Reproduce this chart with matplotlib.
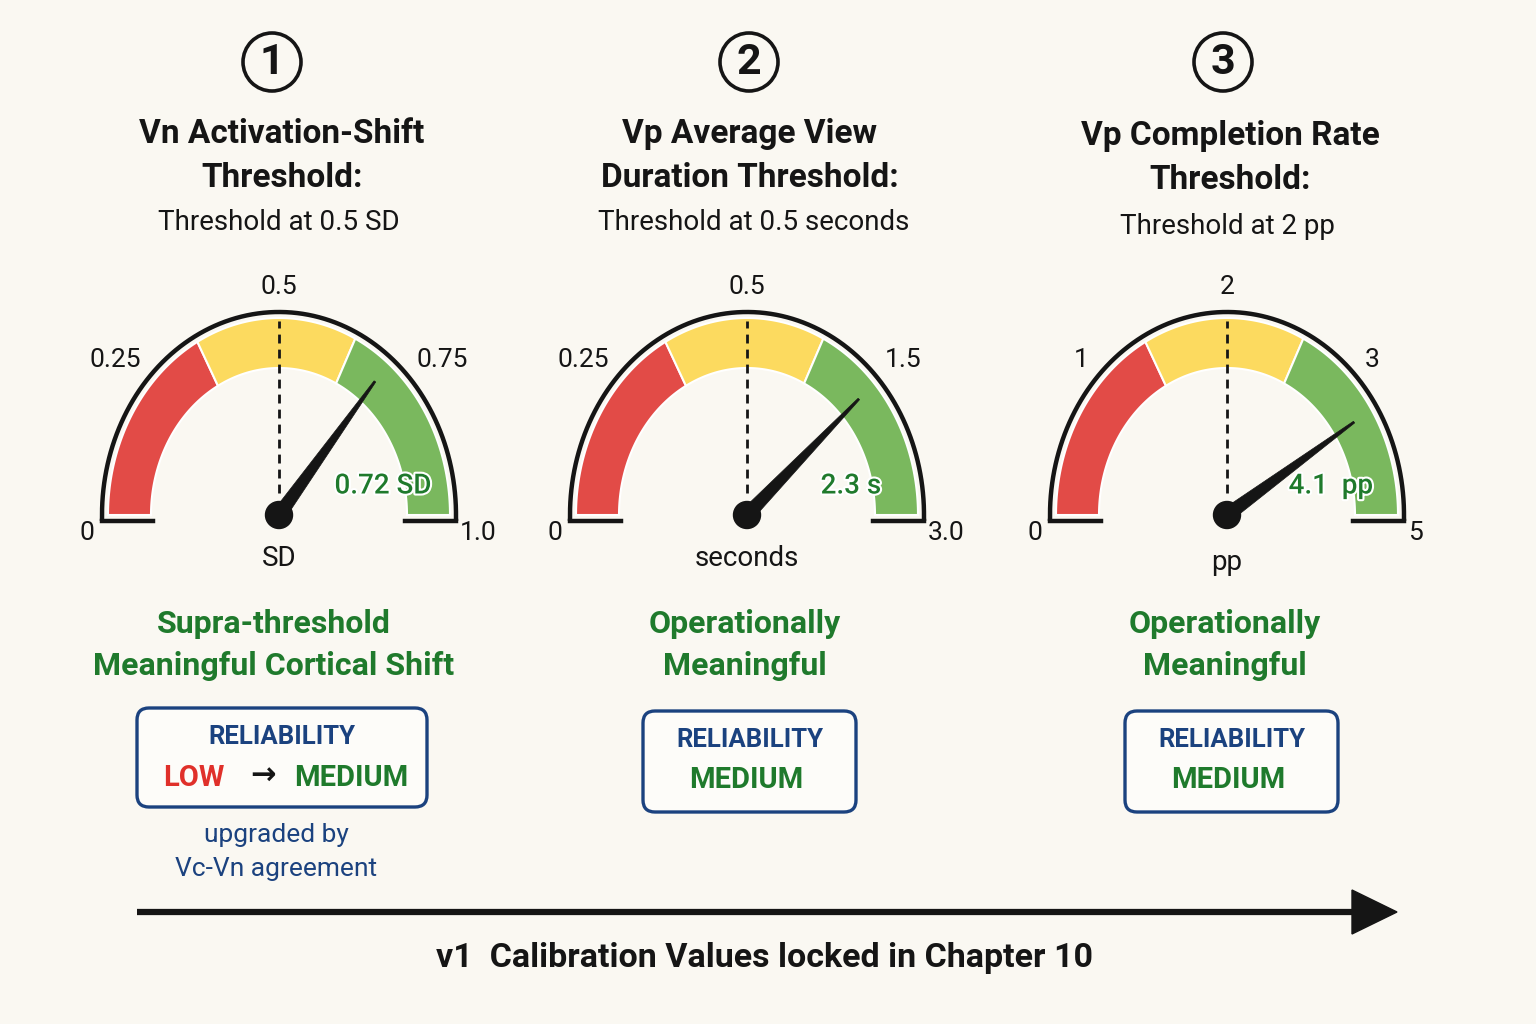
import numpy as np
import matplotlib
matplotlib.use("Agg")
import matplotlib.pyplot as plt
from matplotlib.patches import Polygon, Circle, FancyBboxPatch
import matplotlib.patheffects as pe

# ---------------- data ----------------
titles = ["Vn Activation-Shift\nThreshold:", "Vp Average View\nDuration Threshold:", "Vp Completion Rate\nThreshold:"]
subtitles = ["Threshold at 0.5 SD", "Threshold at 0.5 seconds", "Threshold at 2 pp"]
tick_values = [[0, 0.25, 0.5, 0.75, 1.0], [0, 0.25, 0.5, 1.5, 3.0], [0, 1, 2, 3, 5]]
tick_labels = [["0", "0.25", "0.5", "0.75", "1.0"], ["0", "0.25", "0.5", "1.5", "3.0"], ["0", "1", "2", "3", "5"]]
thresholds = [0.5, 0.5, 2]
needle_values = [0.72, 2.3, 4.1]
value_labels = ["0.72 SD", "2.3 s", "4.1  pp"]
units = ["SD", "seconds", "pp"]
verdicts = ["Supra-threshold\nMeaningful Cortical Shift", "Operationally\nMeaningful", "Operationally\nMeaningful"]
reliability_from = ["LOW", None, None]
reliability_to = ["MEDIUM", "MEDIUM", "MEDIUM"]
footnote = "upgraded by\nVc-Vn agreement"
caption = "v1  Calibration Values locked in Chapter 10"

# ---------------- style ----------------
BG = "#FAF8F2"
RED, YELLOW, GREEN = "#E24B47", "#FCDA5F", "#7AB85E"
DKGREEN = "#1F7A2C"
NAVY = "#1B427F"
INK = "#151515"
plt.rcParams["font.family"] = ["Roboto", "DejaVu Sans"]

zone_deg = [180, 118.5, 63.5, 0]          # red | yellow | green
tick_deg = [180, 135, 90, 45, 0]
centers_x = [279, 747, 1227]
badge_dx = [-7, 2, -4]
cy = 515
rx_out, ry_out = 171, 197
rx_in, ry_in = 128, 147
rx_rim, ry_rim = 177, 203

fig = plt.figure(figsize=(15.36, 10.24), dpi=100, facecolor=BG)
ax = fig.add_axes([0, 0, 1, 1])
ax.set_xlim(0, 1536)
ax.set_ylim(1024, 0)
ax.axis("off")


def ell(cx, a_deg, rx, ry):
    a = np.radians(a_deg)
    return np.column_stack([cx + rx * np.cos(a), cy - ry * np.sin(a)])


for i, cx in enumerate(centers_x):
    # number badge and titles
    bxc = cx + badge_dx[i]
    ax.add_patch(Circle((bxc, 62), 29, fc="none", ec=INK, lw=2.6))
    ax.text(bxc, 63, str(i + 1), ha="center", va="center", fontsize=31, fontweight="bold", color=INK)
    ax.text(cx + 3, 156 + (2 if i == 2 else 0), titles[i], ha="center", va="center",
            fontsize=24, fontweight="bold", color=INK, linespacing=1.5)
    ax.text(cx + (7 if i == 1 else 0), 222 + (5 if i == 2 else 0), subtitles[i], ha="center", va="center",
            fontsize=20, color=INK)

    # colour zones
    for z, col in enumerate([RED, YELLOW, GREEN]):
        a = np.linspace(zone_deg[z], zone_deg[z + 1], 60)
        pts = np.vstack([ell(cx, a, rx_out, ry_out), ell(cx, a[::-1], rx_in, ry_in)])
        ax.add_patch(Polygon(pts, closed=True, fc=col, ec="white", lw=1.5, zorder=2))

    # outer rim + base lines
    a = np.linspace(180, 0, 200)
    rim = ell(cx, a, rx_rim, ry_rim)
    rim = np.vstack([[cx - rx_rim, cy + 6], rim, [cx + rx_rim, cy + 6]])
    ax.plot(rim[:, 0], rim[:, 1], color=INK, lw=3.2, zorder=3, solid_capstyle="butt")
    ax.plot([cx - rx_rim, cx - rx_in + 2], [cy + 6, cy + 6], color=INK, lw=3.2, zorder=3)
    ax.plot([cx + rx_in - 2, cx + rx_rim], [cy + 6, cy + 6], color=INK, lw=3.2, zorder=3)

    # tick labels
    for v, lab, d in zip(tick_values[i], tick_labels[i], tick_deg):
        if d == 180:
            x, y, ha = cx - 192, 533, "center"
        elif d == 0:
            x, y, ha = cx + 181, 533, "left"
        elif d == 135:
            x, y, ha = cx - 138, 360, "right"
        elif d == 45:
            x, y, ha = cx + 138, 360, "left"
        else:
            x, y, ha = cx, 287, "center"
        ax.text(x, y, lab, ha=ha, va="center", fontsize=19, color=INK, zorder=4)

    # threshold dashed line
    t_deg = np.interp(thresholds[i], tick_values[i], tick_deg)
    tp = ell(cx, t_deg, rx_out - 3, ry_out - 3)[0]
    ax.plot([cx, tp[0]], [cy - 22, tp[1]], color=INK, lw=2, ls=(0, (3.2, 2.2)), zorder=3)

    # needle
    n_deg = 180 - 180 * needle_values[i] / tick_values[i][-1]
    tip = ell(cx, n_deg, 0.88 * rx_out, 0.88 * ry_out)[0]
    d = tip - np.array([cx, cy])
    d = d / np.hypot(*d)
    perp = np.array([-d[1], d[0]])
    base = np.array([cx, cy])
    ax.add_patch(Polygon([base + perp * 7, base - perp * 7, tip - perp * 1.0, tip + perp * 1.0],
                         closed=True, fc=INK, ec=INK, lw=0.5, zorder=5))
    ax.add_patch(Circle((cx, cy), 13.5, fc=INK, ec=INK, zorder=6))

    # value label + unit
    ax.text(cx + 104, cy - 29, value_labels[i], ha="center", va="center", fontsize=20, fontweight="medium",
            color=DKGREEN, zorder=7, path_effects=[pe.withStroke(linewidth=3, foreground="white")])
    ax.text(cx, 558 + (4 if i == 2 else 0), units[i], ha="center", va="center", fontsize=20, color=INK)

    # verdict
    ax.text(cx - 2 + (0 if i else -3), 645, verdicts[i], ha="center", va="center", fontsize=23,
            fontweight="bold", color=DKGREEN, linespacing=1.5)

    # reliability box
    if i == 0:
        bx, by, bw, bh = 137, 708, 290, 99
    else:
        bx, by, bw, bh = cx - 104 + (0 if i == 1 else 2), 711, 213, 101
    ax.add_patch(FancyBboxPatch((bx, by), bw, bh, boxstyle="round,pad=0,rounding_size=12",
                                fc="#FDFCF9", ec=NAVY, lw=2.4, zorder=2))
    mx = bx + bw / 2
    ax.text(mx, by + 29, "RELIABILITY", ha="center", va="center", fontsize=18.5, fontweight="bold",
            color=NAVY, zorder=3)
    if reliability_from[i]:
        ax.text(mx - 88, by + 70, reliability_from[i], ha="center", va="center", fontsize=21,
                fontweight="bold", color="#E0302A", zorder=3)
        ax.text(mx - 19, by + 68, "\u2192", ha="center", va="center", fontsize=22,
                fontweight="bold", color=INK, zorder=3, family="DejaVu Sans")
        ax.text(mx + 69, by + 70, reliability_to[i], ha="center", va="center", fontsize=21,
                fontweight="bold", color=DKGREEN, zorder=3)
    else:
        ax.text(mx - 3, by + 69, reliability_to[i], ha="center", va="center", fontsize=21,
                fontweight="bold", color=DKGREEN, zorder=3)

ax.text(276, 852, footnote, ha="center", va="center", fontsize=19, color=NAVY, linespacing=1.5)

# progression arrow + caption
ax.plot([137, 1356], [912, 912], color=INK, lw=4.5, solid_capstyle="butt")
ax.add_patch(Polygon([[1352, 890], [1397, 912], [1352, 934]], closed=True, fc=INK, ec=INK))
ax.text(765, 958, caption, ha="center", va="center", fontsize=24.5, fontweight="bold", color=INK)

fig.savefig("out.png", dpi=100, facecolor=BG)
